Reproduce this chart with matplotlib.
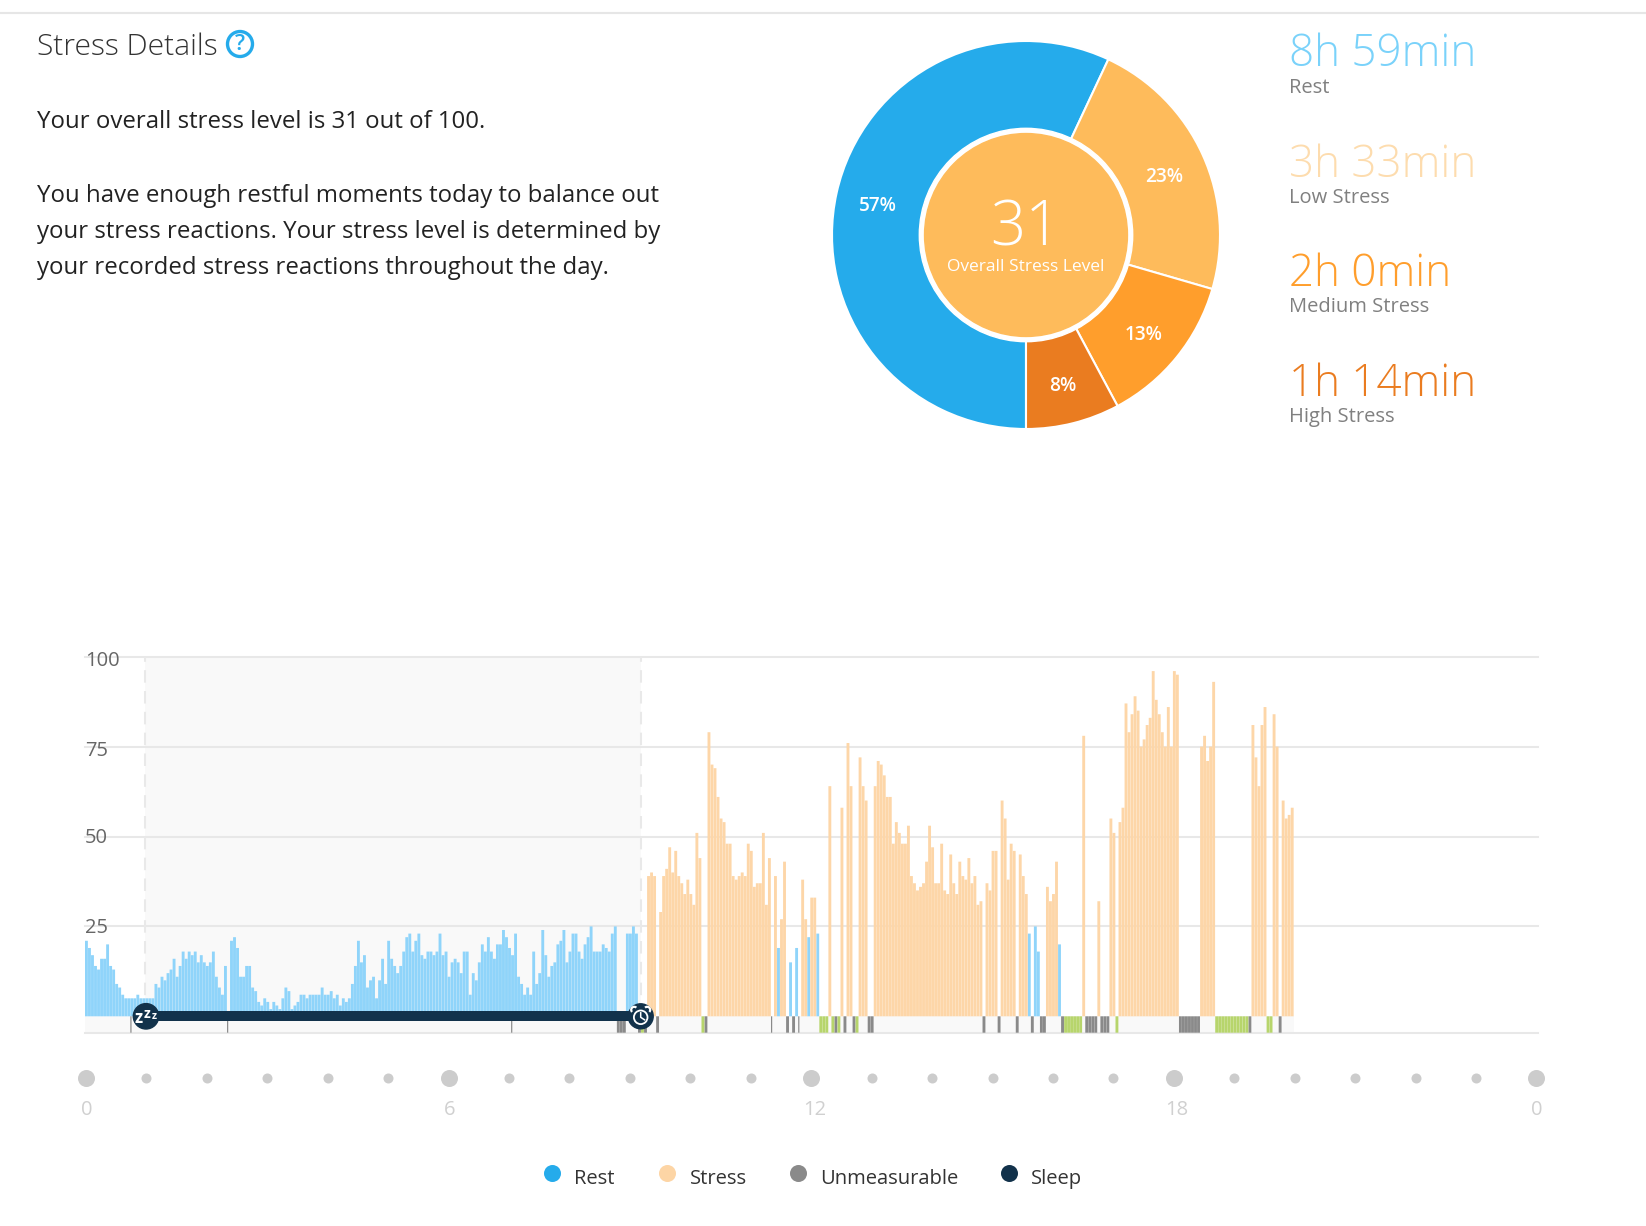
import numpy as np
import matplotlib
matplotlib.use("Agg")
import matplotlib.pyplot as plt
from matplotlib.patches import Circle, Arc

plt.rcParams['font.family'] = ['Open Sans', 'DejaVu Sans']

# summary data
pie_labels = ["Rest", "Low Stress", "Medium Stress", "High Stress"]
pie_minutes = [539, 213, 120, 74]
pie_times = ["8h 59min", "3h 33min", "2h 0min", "1h 14min"]
pie_colors = ["#25ABEB", "#FEBB5B", "#FF9E2C", "#EA7C20"]
time_colors = ["#7AD2FA", "#FDDCAE", "#FF9E2C", "#EA7C20"]
overall_score = 31

# one value per 3 minute slot, 0 = no reading
stress_levels = [
    21, 19, 17, 14, 13, 16, 16, 20, 14, 13,
    9, 8, 6, 5, 5, 5, 5, 6, 5, 5,
    5, 5, 5, 9, 8, 11, 10, 12, 13, 16,
    11, 14, 18, 16, 18, 17, 18, 15, 17, 15,
    14, 15, 18, 11, 8, 6, 14, 0, 21, 22,
    19, 11, 11, 14, 14, 8, 7, 4, 3, 5,
    4, 2, 4, 3, 2, 5, 8, 7, 2, 3,
    4, 6, 6, 5, 6, 6, 6, 6, 8, 6,
    6, 7, 5, 6, 3, 5, 4, 5, 9, 14,
    21, 15, 17, 8, 10, 11, 5, 10, 16, 9,
    21, 16, 14, 12, 14, 18, 22, 23, 18, 21,
    23, 17, 16, 18, 18, 17, 18, 23, 17, 18,
    11, 15, 16, 15, 12, 18, 18, 6, 12, 10,
    15, 20, 18, 22, 18, 16, 20, 20, 24, 22,
    19, 17, 23, 11, 9, 6, 8, 6, 18, 9,
    12, 24, 17, 11, 14, 15, 20, 21, 24, 15,
    18, 23, 23, 18, 16, 20, 22, 25, 18, 18,
    18, 20, 19, 18, 23, 25, 0, 0, 0, 23,
    23, 25, 23, 0, 0, 0, 39, 40, 39, 0,
    29, 39, 41, 47, 40, 46, 39, 37, 34, 38,
    34, 31, 51, 44, 0, 0, 79, 70, 69, 61,
    55, 54, 48, 48, 39, 38, 39, 40, 39, 48,
    46, 36, 37, 37, 51, 31, 44, 0, 39, 19,
    27, 43, 0, 15, 0, 19, 0, 38, 27, 22,
    33, 33, 23, 0, 0, 0, 64, 0, 0, 0,
    58, 0, 76, 64, 0, 0, 72, 64, 60, 0,
    0, 64, 71, 70, 67, 61, 61, 48, 54, 51,
    48, 48, 53, 39, 37, 35, 36, 37, 43, 53,
    47, 37, 37, 48, 35, 34, 45, 37, 34, 43,
    39, 38, 44, 37, 39, 31, 32, 0, 37, 35,
    46, 46, 0, 60, 55, 38, 48, 46, 0, 45,
    39, 34, 23, 0, 25, 18, 0, 0, 36, 32,
    34, 43, 20, 0, 0, 0, 0, 0, 0, 0,
    78, 0, 0, 0, 0, 32, 0, 0, 0, 55,
    51, 0, 54, 58, 87, 79, 84, 89, 85, 75,
    77, 81, 83, 96, 88, 84, 79, 75, 86, 75,
    96, 95, 0, 0, 0, 0, 0, 0, 0, 75,
    78, 71, 75, 93, 0, 0, 0, 0, 0, 0,
    0, 0, 0, 0, 0, 0, 81, 72, 64, 81,
    86, 0, 0, 84, 75, 0, 60, 55, 56, 58,
]

unmeasurable_slots = [176, 177, 178, 183, 185, 189, 205, 232, 234, 248, 251, 254, 259, 260,
                      297, 302, 308, 313, 316, 317, 323, 331, 332, 333, 334, 336, 337, 338,
                      362, 363, 364, 365, 366, 367, 368, 385, 395]
thin_unmeasurable_slots = [15, 47, 141, 227, 236]
active_slots = [184, 204, 243, 244, 245, 247, 249, 255, 324, 325, 326, 327, 328, 329, 341,
                374, 375, 376, 377, 378, 379, 380, 381, 382, 383, 384, 391, 392]
sleep_start = 19.7
sleep_end = 184.0
hours = list(range(0, 25))
hour_labels = [0, 6, 12, 18, 0]
legend_names = ["Rest", "Stress", "Unmeasurable", "Sleep"]
legend_colors = ["#25ABEB", "#FDD5A5", "#8A8A8A", "#12324B"]
legend_dot_x = [552, 667, 798, 1009]
legend_text_x = [574, 690, 820, 1031]
y_ticks = [25, 50, 75, 100]
y_label_shift = [0.4, 0.4, 1.1, 1.3]

W, H = 1646, 1226
SLOT_PX = 3.022
UNIT_PX = 3.596
BASE_PX = 1016.3
STRIP_BOTTOM = -(1032.7 - BASE_PX) / UNIT_PX

fig = plt.figure(figsize=(W / 100, H / 100), dpi=100, facecolor="white")

# bar chart, x in slots, y in stress units
ax = fig.add_axes([85 / W, (H - 1032.7) / H, (1538 - 85) / W, (1032.7 - 656.7) / H])
ax.set_xlim(0, (1538 - 85) / SLOT_PX)
ax.set_ylim(STRIP_BOTTOM, 100)
ax.axis("off")

levels = np.array(stress_levels)
slots = np.arange(len(levels))
is_rest = levels <= 25

ax.fill_between([sleep_start, sleep_end], 0, 100, color="#F9F9F9", lw=0, zorder=0)
ax.fill_between([0, len(levels)], STRIP_BOTTOM, 0, color="#F9F9F9", lw=0, zorder=0)
for v in y_ticks + [STRIP_BOTTOM]:
    ax.axhline(v, color="#E8E8E8", lw=1.5, zorder=1, clip_on=False)
for s in [sleep_start, sleep_end]:
    ax.plot([s, s], [0, 100], color="#E9E9E9", lw=1.5, ls=(0, (6, 4)), zorder=1)

ax.bar(slots[is_rest], levels[is_rest], width=0.95, align="edge", color="#8FD4FA", lw=0, zorder=2, snap=False)
ax.bar(slots[~is_rest], levels[~is_rest], width=0.95, align="edge", color="#FDD6A8", lw=0, zorder=2, snap=False)

ax.bar(unmeasurable_slots, STRIP_BOTTOM, width=0.95, align="edge", color="#8A8A8A", lw=0, zorder=2, snap=False)
ax.bar(thin_unmeasurable_slots, STRIP_BOTTOM, width=0.4, align="edge", color="#8A8A8A", lw=0, zorder=2, snap=False)
ax.bar(active_slots, STRIP_BOTTOM, width=0.95, align="edge", color="#B7D56C", lw=0, zorder=2, snap=False)

ax.plot([sleep_start, sleep_end], [0, 0], color="#12324B", lw=7.2, solid_capstyle="butt", zorder=3)

for v, sh in zip(y_ticks, y_label_shift):
    ax.text(0, v - sh, str(v), fontsize=14.5, color="#666666", ha="left", va="center", zorder=4)

# hour dots below the strip
dot_y = -(1077.7 - BASE_PX) / UNIT_PX
hour_x = np.array(hours) * 20 + 0.3
big = np.array(hours) % 6 == 0
ax.scatter(hour_x[~big], np.full((~big).sum(), dot_y), s=52, color="#CCCCCC", lw=0, clip_on=False)
ax.scatter(hour_x[big], np.full(big.sum(), dot_y), s=150, color="#CCCCCC", lw=0, clip_on=False)
label_shift = [0.3, 0.3, 1.3, 1.0, 0.0]
for h, lab, sh in zip(hours[::6], hour_labels, label_shift):
    ax.text(h * 20 + 0.3 + sh, -(1110 - BASE_PX) / UNIT_PX, str(lab), fontsize=14.5, color="#D0D0D0",
            ha="center", va="center", clip_on=False)

# donut
pie_ax = fig.add_axes([(1026 - 194) / W, (H - 235 - 194) / H, 388 / W, 388 / H])
wedges, texts, autotexts = pie_ax.pie(pie_minutes, colors=pie_colors, startangle=270, counterclock=False,
                                      autopct=lambda p: "%.0f%%" % p, pctdistance=0.78,
                                      wedgeprops={"edgecolor": "white", "linewidth": 1.5},
                                      textprops={"color": "white", "fontsize": 13.7, "fontweight": "semibold"})
for t in autotexts:
    t.set_y(t.get_position()[1] - 0.022)
pie_ax.set_xlim(-1.0, 1.0)
pie_ax.set_ylim(-1.0, 1.0)
pie_ax.add_patch(Circle((0, 0), 0.55, color="white", zorder=3))
pie_ax.add_patch(Circle((0, 0), 0.523, color=pie_colors[1], zorder=4))
pie_ax.text(-0.005, 0.03, str(overall_score), fontsize=44.5, color="white", ha="center", va="center", zorder=5,
            fontweight="light")
pie_ax.text(0, -0.165, "Overall Stress Level", fontsize=12.5, color="white", ha="center", va="center", zorder=5)

# page furniture in pixel coordinates
page = fig.add_axes([0, 0, 1, 1], zorder=5)
page.set_xlim(0, W)
page.set_ylim(H, 0)
page.axis("off")
page.patch.set_alpha(0)

page.plot([0, W], [13, 13], color="#E6E6E6", lw=1.5)
page.text(37, 47, "Stress Details", fontsize=21.6, color="#333333", ha="left", va="center", fontweight="light")
page.add_patch(Circle((240, 44), 12.5, fill=False, ec="#25ABEB", lw=2.4))
page.text(240, 44, "?", fontsize=16, color="#25ABEB", ha="center", va="center", fontweight="semibold")

body = ["Your overall stress level is 31 out of 100.",
        "You have enough restful moments today to balance out",
        "your stress reactions. Your stress level is determined by",
        "your recorded stress reactions throughout the day."]
for line, y in zip(body, [122, 196, 231.5, 267.5]):
    page.text(37, y, line, fontsize=17.3, color="#222222", ha="left", va="center")

for name, t, col, y, ny in zip(pie_labels, pie_times, time_colors, [55, 166, 275, 385], [88, 198, 307, 417]):
    page.text(1289, y, t, fontsize=31.7, color=col, ha="left", va="center", fontweight="light")
    page.text(1289, ny, name, fontsize=14.5, color="#808080", ha="left", va="center")

for name, col, dx, tx in zip(legend_names, legend_colors, legend_dot_x, legend_text_x):
    page.scatter([dx], [1173], s=150, color=col, lw=0)
    page.text(tx, 1179, name, fontsize=14.5, color="#333333", ha="left", va="center")

# sleep start marker
page.add_patch(Circle((146, BASE_PX), 12.7, color="#12324B", zorder=6))
page.text(139, BASE_PX + 2, "z", fontsize=12, color="white", ha="center", va="center", fontweight="bold", zorder=7)
page.text(147, BASE_PX - 2, "z", fontsize=10, color="white", ha="center", va="center", fontweight="bold", zorder=7)
page.text(154, BASE_PX, "z", fontsize=7.5, color="white", ha="center", va="center", fontweight="bold", zorder=7)

# wake up marker
ax_x, ax_y = 640.7, BASE_PX
page.add_patch(Circle((ax_x, ax_y), 12.5, color="#12324B", zorder=6))
page.add_patch(Circle((ax_x, ax_y + 1), 6.8, fill=False, ec="white", lw=1.3, zorder=7))
page.plot([ax_x, ax_x, ax_x + 3.8], [ax_y - 3.5, ax_y + 1, ax_y + 3.5], color="white", lw=1.1, zorder=7)
page.add_patch(Arc((ax_x - 6.5, ax_y - 6.5), 6, 6, angle=-45, theta1=180, theta2=360, ec="white", lw=1.6, zorder=7))
page.add_patch(Arc((ax_x + 6.5, ax_y - 6.5), 6, 6, angle=45, theta1=180, theta2=360, ec="white", lw=1.6, zorder=7))

fig.savefig("out.png", dpi=100)
